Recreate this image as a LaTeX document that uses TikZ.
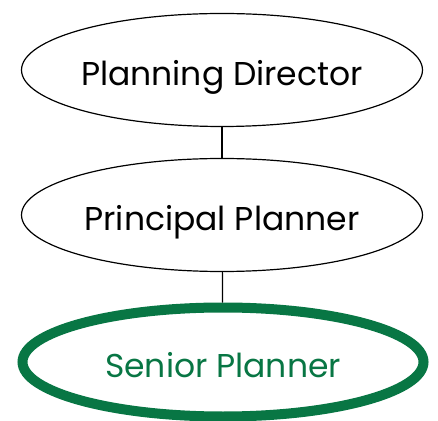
\documentclass[tikz,border=0pt]{standalone}
\usepackage{fontspec}
\setmainfont{Poppins}
\usetikzlibrary{shapes.geometric}
\definecolor{plangreen}{RGB}{8,118,68}

\begin{document}
\begin{tikzpicture}[x=1pt,y=1pt,
    role/.style={draw, ellipse, inner sep=0pt, line width=1.2pt,
      minimum width=401pt, minimum height=113pt,
      text height=31pt, text depth=0pt,
      font=\fontsize{33}{38}\selectfont}]
  \useasboundingbox (0,0) rectangle (438,420);
  \node[role](Director) at (222,350) {Planning Director};
  \node[role](Principal) at (222,205) {Principal Planner};
  \node[role, draw=plangreen, line width=10pt, text=plangreen,
    minimum height=109pt](Senior) at (223,58) {Senior Planner};

  \draw[line width=1.2pt] (Director) -- (Principal);
  \draw[line width=1.2pt] (Principal) -- (Senior);
\end{tikzpicture}
\end{document}
